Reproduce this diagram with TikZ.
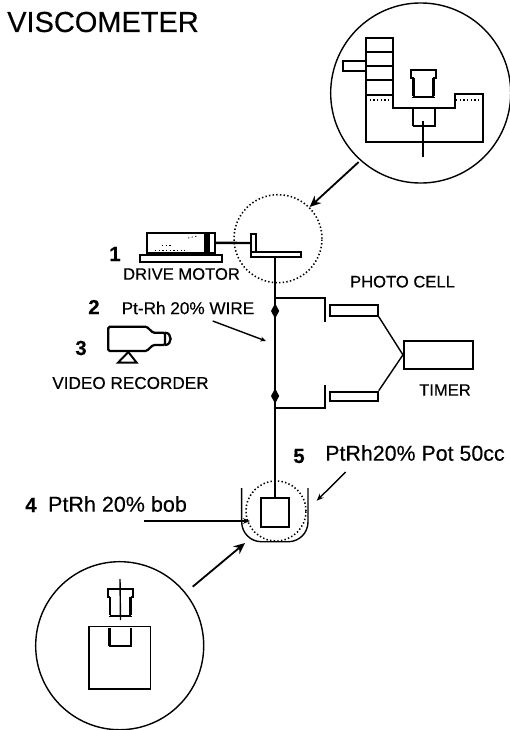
\documentclass[tikz,border=0pt]{standalone}
\usepackage{fontspec}
\setmainfont{Liberation Sans}[FakeBold=0.35]
\usetikzlibrary{positioning, fit, arrows.meta, shapes.geometric}
\tikzset{
    part/.style={draw, black, line width=1.1pt, inner sep=0pt, fit={#1}},
    heavy/.style={black, line width=1.4pt},
    thin line/.style={black, line width=1pt},
    threadline/.style={black, line width=1.9pt, dash pattern=on 2pt off 0.2pt},
    dotline/.style={black, line width=1pt, dash pattern=on 1pt off 1.6pt},
    callout/.style={black, line width=1.3pt, -{Stealth[length=8pt, width=7pt]}},
    zoomring/.style={circle, draw, black, line width=1pt, inner sep=0pt},
    dotring/.style={circle, draw, black, line width=1.1pt, dash pattern=on 1pt off 1.6pt, inner sep=0pt},
    knot/.style={diamond, fill=black, inner sep=0pt, minimum width=6pt, minimum height=11pt},
}
\begin{document}
\begin{tikzpicture}[x=0.025cm, y=-0.025cm]
\useasboundingbox (0,0) rectangle (510,730);
% Title
\node[font=\fontsize{20.6}{23}\selectfont] (title) at (103,22) {VISCOMETER};
% Rings
\node[zoomring, minimum size=4.5cm] (topring) at (420.7,93) {};
\node[zoomring, minimum size=4.2cm] (lowring) at (119.7,645.7) {};
\node[dotring, minimum size=2.2cm] (drivering) at (278,238.7) {};
\node[dotring, minimum size=1.5cm] (bobring) at (276,511) {};
% Top ring detail
\foreach \ya/\yb in {37.7/52, 52/66, 66/80, 80/95}{
    \draw[heavy] (366,\ya) rectangle (393,\yb);
}
\draw[heavy] (366,61) -- (343,61) -- (343,71) -- (366,71);
\draw[heavy] (366,95) -- (366,142) -- (483,142) -- (483,94) -- (455,94)
    -- (455,107.7) -- (393,107.7) -- (393,95);
\draw[dotline] (366,100) -- (393,100);
\draw[dotline] (456,100) -- (483,100);
\draw[heavy] (414,78) -- (411,78) -- (411,70) -- (436,70) -- (436,78) -- (433,78);
\draw[threadline] (413.5,78) -- (413.5,96.7);
\draw[threadline] (433.5,78) -- (433.5,96.7);
\draw[heavy] (413,96.7) -- (434,96.7);
\draw[threadline] (413,108) -- (413,126);
\draw[threadline] (435,108) -- (435,126);
\draw[heavy] (412.5,126) -- (435.5,126);
\draw[thin line] (423,120.7) -- (423,156.7);
% Lower ring detail
\draw[heavy] (110,597) -- (107.7,597) -- (107.7,589) -- (132.7,589) -- (132.7,597) -- (130.5,597);
\draw[threadline] (110,597) -- (110,616);
\draw[threadline] (130.5,597) -- (130.5,616);
\draw[heavy] (110,616) -- (130.5,616);
\draw[thin line] (120,579) -- (120.5,620);
\node[part={(89,626.7) (150.7,689)}] (bigbob) {};
\draw[threadline] (109.5,628) -- (109.5,646);
\draw[threadline] (131,628) -- (131,646);
\draw[heavy] (109,646) -- (131.5,646);
% Drive motor
\node[part={(146.7,232.7) (205,253)}, line width=1.5pt] (motor) {};
\node[part={(205,232.7) (214.7,253)}, line width=1.5pt] (motorcap) {};
\fill[black] (205,232.7) rectangle (209.5,253);
\node[part={(140,255) (221.7,262)}, line width=1.5pt] (motorbase) {};
\draw[dotline, line width=0.5pt] (155,250) -- (185,250);
\draw[dotline, line width=0.5pt] (162,245) -- (172,245);
\draw[dotline, line width=0.5pt] (188,238) -- (197,236);
\node[part={(251,234) (256,252)}, line width=1.5pt] (crank) {};
\node[part={(251,251.7) (300.7,257.3)}, line width=1.5pt] (arm) {};
\draw[line width=1.7pt] (motorcap.east) -- (crank.west);
% Video recorder
\draw[line width=1.6pt, rounded corners=1pt] (108.3,326.7) -- (146.7,326.7) -- (153,332.7) -- (165,332.7)
    -- (165,345) -- (153,345) -- (146.7,351) -- (108.3,351) -- cycle;
\draw[line width=1.6pt] (165,332.7) .. controls (172.5,332.7) and (172.5,345) .. (165,345);
\draw[heavy] (128.3,352) -- (136.7,362.7) -- (118,362.7) -- cycle;
% Wire and pot
\node[part={(261,497.7) (289.3,527)}, line width=1.2pt] (bob) {};
\node[knot] (upknot) at (275.1,311) {};
\node[knot] (lowknot) at (275.1,396) {};
\draw[line width=1.3pt] (arm.south -| bob.north) -- (bob.north);
\draw[thin line, rounded corners=14pt] (241.7,488) -- (241.7,541.7) -- (308,541.7) -- (308,488);
% Photo cells and timer
\node[part={(330,305) (377.7,315.7)}, line width=1.5pt] (upcell) {};
\node[part={(330,391.7) (377.7,401)}, line width=1.5pt] (lowcell) {};
\node[part={(404,341) (472.7,368.7)}, line width=1.5pt] (timer) {};
\coordinate (uptap) at (275.1,298);
\coordinate (lowtap) at (275.1,408);
\draw[heavy] (uptap) -- (325,298) -- (325,322);
\draw[heavy] (lowtap) -- (325,408) -- (325,385);
\draw[thin line] (upcell.south east) -- (timer.west);
\draw[thin line] (lowcell.north east) -- (timer.west);
% Arrows
\coordinate (wiretail) at (212.7,321);
\coordinate (wiretip) at (266,341);
\coordinate (bobtail) at (144,521);
\coordinate (bobtip) at (250,521);
\coordinate (pottail) at (345.7,472);
\coordinate (pottip) at (316.7,500.7);
\coordinate (pothit) at (245,543);
\draw[callout] (topring) ++(-62,69) -- (drivering.45);
\draw[callout] (lowring) ++(73,-59) -- (pothit);
\draw[thin line, -{Stealth[length=4pt, width=3.5pt]}] (wiretail) -- (wiretip);
\draw[thin line, -{Stealth[length=5pt, width=4pt]}] (bobtail) -- (bobtip);
\draw[thin line, -{Stealth[length=5pt, width=4pt]}] (pottail) -- (pottip);
% Labels
\node[font=\fontsize{11.8}{13}\selectfont] (drivetext) at (181.5,274) {DRIVE MOTOR};
\node[font=\fontsize{12.2}{13}\selectfont] (wiretext) at (188,308) {Pt-Rh 20\% WIRE};
\node[font=\fontsize{12.2}{13}\selectfont] (videotext) at (130.5,383) {VIDEO RECORDER};
\node[font=\fontsize{11.8}{13}\selectfont] (phototext) at (402.5,281.7) {PHOTO CELL};
\node[font=\fontsize{11.8}{13}\selectfont] (timertext) at (445,390) {TIMER};
\node[font=\fontsize{15.2}{17}\selectfont] (pottext) at (415,453) {PtRh20\% Pot 50cc};
\node[font=\fontsize{15.3}{17}\selectfont] (bobtext) at (117.5,504) {PtRh 20\% bob};
\foreach \num/\px/\py in {1/115/254, 2/94/307, 3/81/348, 4/31/505, 5/299/456}{
    \node[font=\fontsize{14.5}{16}\selectfont\bfseries] (num\num) at (\px,\py) {\num};
}
\end{tikzpicture}
\end{document}
